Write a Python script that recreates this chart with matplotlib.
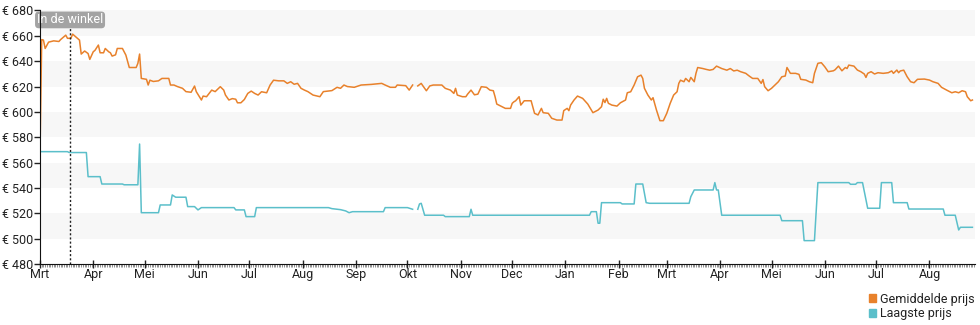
import numpy as np
import matplotlib
matplotlib.use('Agg')
import matplotlib.pyplot as plt
import matplotlib.dates as mdates
from matplotlib.patches import Patch
import datetime as dt

plt.rcParams['font.family'] = ['Roboto', 'DejaVu Sans']

START = dt.date(2022, 3, 1)

# Gemiddelde prijs (day offset from START, price)
avg_days = [0, 1, 2, 3, 5, 8, 11, 12, 15, 16, 18, 19, 21, 23, 24, 26, 28, 29, 31, 32,
            34, 35, 37, 38, 40, 41, 42, 44, 45, 48, 50, 52, 56, 57, 58, 59, 62, 63, 64, 66,
            69, 71, 75, 76, 78, 80, 83, 85, 88, 90, 91, 94, 95, 97, 100, 102, 105, 107, 108, 110,
            112, 114, 115, 117, 119, 121, 123, 125, 127, 129, 132, 134, 136, 139, 142, 144, 146, 148, 150, 152,
            154, 156, 159, 163, 165, 170, 173, 175, 177, 179, 183, 187, 193, 199, 201, 204, 207, 208, 213, 215,
            217, 218, 220, 222, 223, 225, 227, 229, 234, 236, 239, 241, 242, 243, 246, 248, 249, 251, 253, 255,
            257, 260, 262, 264, 265, 266, 271, 274, 275, 276, 277, 279, 280, 282, 286, 288, 290, 292, 293, 296,
            298, 301, 304, 305, 307, 308, 309, 311, 313, 316, 319, 322, 325, 327, 328, 329, 330, 331, 333, 336,
            338, 341, 342, 344, 346, 348, 350, 351, 352, 354, 356, 357, 359, 361, 363, 365, 367, 369, 371, 372,
            373, 375, 376, 378, 379, 381, 382, 383, 386, 388, 390, 392, 394, 397, 400, 402, 404, 406, 408, 411,
            413, 415, 418, 420, 421, 422, 424, 426, 428, 430, 432, 434, 435, 437, 440, 442, 443, 446, 448, 450,
            451, 453, 455, 457, 459, 462, 463, 465, 467, 469, 470, 471, 474, 476, 478, 480, 481, 482, 484, 486,
            488, 491, 494, 496, 497, 499, 500, 501, 503, 505, 507, 509, 511, 515, 518, 520, 523, 525, 528, 531,
            533, 535, 537, 539, 540, 542, 543]
avg_prices = [568, 657, 656.6, 650, 655, 656, 655.5, 657, 660.5, 658, 658, 661.3, 659, 656.6, 645.6, 648, 646, 641.4, 647.4, 648.5,
              652.7, 646.6, 646.6, 650, 647.4, 646.6, 644, 645, 650, 650, 644.8, 635, 635, 638.3, 645.6, 626.4, 625.7, 621.2, 625, 624,
              624.5, 626.4, 626.4, 621.2, 621.2, 620, 618.6, 616, 615.5, 620.4, 616, 609.4, 612.5, 612, 617.2, 616, 619.9, 617.2, 613.3, 609.4,
              610.5, 610, 607.2, 607.2, 609.8, 614.6, 616.4, 614.6, 613.3, 615.9, 615.1, 621.2, 625, 624.5, 624.5, 622.5, 623.8, 621.8, 622.5, 618.6,
              617.2, 616, 613.3, 612, 616, 616.8, 619.4, 618.6, 621.2, 620, 619.4, 621.2, 621.7, 622.5, 621.2, 619.4, 619.4, 621.2, 620.7, 617.2,
              621.2, np.nan, 620.5, 622.5, 620.5, 616.7, 620.5, 621.2, 621.2, 618.6, 617.2, 614.6, 618.6, 613.3, 612, 612, 614, 617.2, 613.5, 614,
              619.9, 619.4, 617.2, 616.7, 612, 606.2, 602.8, 602.8, 606.8, 608, 608.8, 612, 605.4, 608.8, 608.8, 598.9, 597.6, 602.8, 599.4, 598.9,
              595, 593.6, 593.6, 601, 602.8, 601, 605.4, 609.4, 612.5, 610.7, 606.2, 599.4, 601.5, 604.1, 610, 607.4, 610.7, 606.8, 605.4, 604.6,
              607.2, 609.4, 615.1, 615.9, 621.2, 627.7, 629, 626.4, 618.6, 613.3, 609.4, 611.2, 601.5, 593.1, 593.1, 598.9, 606.8, 613.3, 615.9, 622.5,
              625, 623.8, 626.4, 623.8, 627.2, 623.8, 630.4, 635, 634.2, 633.5, 632.9, 633.5, 636.1, 634.2, 632.9, 634.2, 632.3, 632.9, 631.7, 630.4,
              628.3, 626.4, 626.4, 622.5, 625.5, 619.9, 616.7, 618.6, 621.2, 623.8, 627.7, 628.3, 635, 630.4, 630.4, 629.6, 625.7, 625.1, 623.8, 623,
              630.4, 638.3, 638.8, 635.6, 631.7, 632.4, 633.2, 636.1, 632.4, 635, 634.2, 636.9, 636.1, 633, 631.7, 629.9, 627.2, 630.4, 631.7, 629.9,
              630.9, 630.4, 630.9, 632.3, 630.4, 633, 630.9, 632.3, 632.9, 627.7, 623.8, 623, 625.7, 625.9, 625.1, 623.8, 622.5, 619.4, 617.2, 615.1,
              615.9, 615.1, 616.7, 615.9, 612, 608.8, 609.4]

# Laagste prijs
low_days = [0, 16, 17, 27, 28, 35, 36, 48, 49, 57, 58, 59, 69, 70, 76, 77, 79, 85, 86, 90,
            92, 94, 113, 114, 119, 120, 125, 126, 168, 170, 175, 178, 180, 182, 200, 201, 214, 217, 218, 220,
            221, 222, 224, 235, 236, 250, 251, 252, 320, 321, 324, 325, 326, 327, 338, 339, 346, 347, 351, 353,
            355, 378, 379, 381, 392, 393, 394, 395, 397, 431, 432, 444, 445, 451, 453, 471, 472, 475, 476, 479,
            482, 489, 490, 496, 497, 505, 506, 526, 527, 533, 535, 536, 543]
low_prices = [568.7, 568.7, 568, 568, 549, 549, 543.2, 543.2, 542.6, 542.6, 574.7, 520.6, 520.6, 526.7, 526.7, 534.6, 532.8, 532.8, 525.4, 525.4,
              522.8, 524.6, 524.6, 522.8, 522.8, 517.5, 517.5, 524.6, 524.6, 523.8, 523, 522, 520.6, 521.4, 521.4, 524.6, 524.6, 523.3, np.nan, 523.3,
              527.5, 528, 518.6, 518.6, 517.5, 517.5, 523.3, 518.6, 518.6, 521.4, 521.4, 512.3, 512.3, 528.5, 528.5, 527.5, 527.5, 543.2, 543.2, 528.5,
              528, 528, 533.2, 538.5, 538.5, 544.3, 538.5, 538.5, 518.6, 518.6, 514.3, 514.3, 498.6, 498.6, 544.3, 544.3, 543, 543, 544.3, 544.3,
              524.1, 524.1, 544.3, 544.3, 528.5, 528.5, 523.5, 523.5, 518.6, 518.6, 507, 509.1, 509.1]

month_names = ['Jan', 'Feb', 'Mrt', 'Apr', 'Mei', 'Jun', 'Jul', 'Aug', 'Sep', 'Okt', 'Nov', 'Dec']
store_day = 17.5
y_ticks = list(range(480, 681, 20))


def to_dates(days):
    return [mdates.date2num(START) + d for d in days]


fig = plt.figure(figsize=(9.8, 3.25), dpi=100)
ax = fig.add_axes([40 / 980, 0.187, 935 / 980, 0.781])

# alternating background bands
for lo in range(500, 680, 40):
    ax.axhspan(lo, lo + 20, color='#f7f7f7', zorder=0, lw=0)

ax.plot(to_dates(avg_days), avg_prices, color='#e8812b', lw=1.1, zorder=3)
ax.plot(to_dates(low_days), low_prices, color='#5bbfca', lw=1.1, zorder=3)

x0 = mdates.date2num(START)
ax.set_xlim(x0, x0 + 544.5)
ax.set_ylim(480, 680)
ax.set_yticks(y_ticks)
ax.set_yticklabels(['€ %d' % v for v in y_ticks])

ax.xaxis.set_major_locator(mdates.MonthLocator())
ax.xaxis.set_major_formatter(plt.FuncFormatter(lambda v, p: month_names[mdates.num2date(v).month - 1]))
ax.xaxis.set_minor_locator(mdates.DayLocator())

ax.tick_params(axis='y', length=4, width=1, labelsize=9, colors='#222222', pad=1)
ax.tick_params(axis='x', which='major', length=6, direction='inout', width=1, labelsize=9,
               colors='#222222', pad=0)
ax.tick_params(axis='x', which='minor', length=2, direction='out', width=0.5, colors='#666666')

for s in ['top', 'right']:
    ax.spines[s].set_visible(False)
for s in ['left', 'bottom']:
    ax.spines[s].set_color('#111111')
    ax.spines[s].set_zorder(5)

# "In de winkel" marker
ax.axvline(x0 + store_day, color='#222222', ls=(0, (1.5, 1.5)), lw=1, zorder=4)
ax.text(x0 + store_day, 672.5, 'In de winkel', ha='center', va='center', fontsize=9, color='white',
        zorder=4, clip_on=False,
        bbox=dict(boxstyle='round,pad=0.15,rounding_size=0.3', fc='#a3a3a3', ec='none'))

handles = [Patch(color='#e8812b', label='Gemiddelde prijs'),
           Patch(color='#5bbfca', label='Laagste prijs')]
fig.legend(handles=handles, loc='lower right', bbox_to_anchor=(1.001, -0.005), frameon=False,
           fontsize=9, handlelength=0.6, handleheight=0.6, handletextpad=0.3, labelspacing=0.15,
           borderpad=0, labelcolor='#222222')

fig.savefig('out.png', dpi=100)
